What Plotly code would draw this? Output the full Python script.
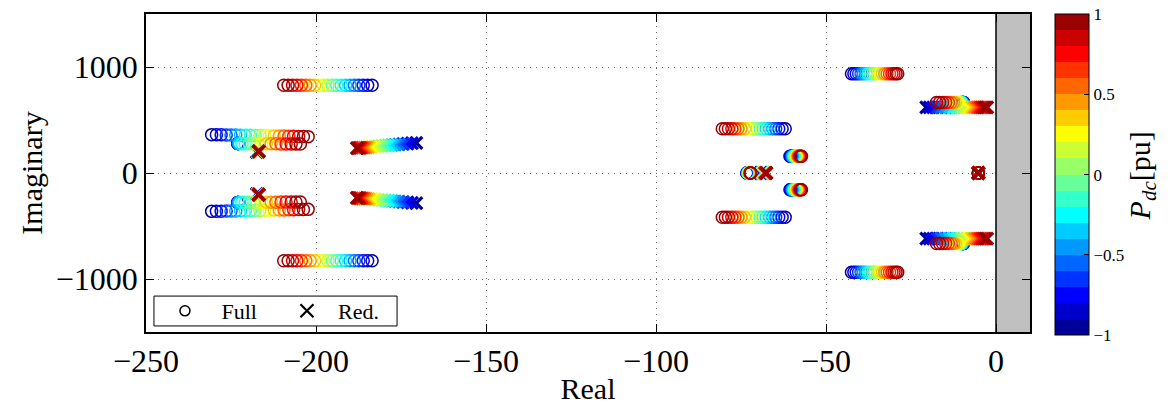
import plotly.graph_objects as go

# ---------------- data ----------------
pdc = [-1.0, -0.9, -0.8, -0.7, -0.6, -0.5, -0.4, -0.3, -0.2, -0.1, 0.0,
       0.1, 0.2, 0.3, 0.4, 0.5, 0.6, 0.7, 0.8, 0.9, 1.0]

# Full model eigenvalue trajectories (upper half plane; conjugates mirrored)
full_1_re = [-183.5, -184.8, -186.1, -187.4, -188.7, -190.0, -191.3, -192.6, -193.9, -195.2, -196.5,
             -197.8, -199.1, -200.4, -201.7, -203.0, -204.3, -205.6, -206.9, -208.2, -209.5]
full_1_im = [828, 828, 828, 828, 828, 828, 828, 828, 828, 828, 828,
             828, 828, 828, 828, 828, 828, 828, 828, 828, 828]

full_2_re = [-230.7, -229.3, -227.9, -226.4, -225.0, -223.6, -222.2, -220.8, -219.3, -217.9, -216.5,
             -215.1, -213.7, -212.3, -210.8, -209.4, -208.0, -206.6, -205.1, -203.7, -202.3]
full_2_im = [362, 361, 360, 359, 358, 358, 357, 356, 355, 354, 353,
             352, 351, 350, 349, 348, 347, 346, 345, 344, 343]

full_3_re = [-223.0, -223.0, -223.0, -222.9, -222.8, -222.7, -222.5, -221.8, -220.8, -219.6, -218.4,
             -217.2, -215.9, -214.6, -213.2, -211.8, -210.3, -208.8, -207.3, -205.9, -204.6]
full_3_im = [278, 278, 278, 278, 278, 278, 278, 277, 277, 277, 276,
             276, 276, 275, 275, 275, 274, 274, 274, 273, 273]

full_4_re = [-62.0, -62.9, -63.9, -64.8, -65.7, -66.6, -67.6, -68.5, -69.4, -70.3, -71.3,
             -72.2, -73.1, -74.0, -75.0, -75.9, -76.8, -77.7, -78.7, -79.6, -80.5]
full_4_im = [418, 418, 418, 418, 418, 418, 418, 418, 418, 418, 418,
             418, 418, 418, 418, 418, 418, 418, 418, 418, 418]

full_5_re = [-73.3, -73.2, -73.2, -73.1, -73.1, -73.0, -72.9, -72.9, -72.8, -72.8, -72.7,
             -72.6, -72.6, -72.5, -72.5, -72.4, -72.3, -72.3, -72.2, -72.2, -72.1]
full_5_im = [0, 0, 0, 0, 0, 0, 0, 0, 0, 0, 0, 0, 0, 0, 0, 0, 0, 0, 0, 0, 0]

full_6_re = [-60.6, -60.4, -60.3, -60.1, -59.9, -59.8, -59.6, -59.4, -59.2, -59.1, -58.9,
             -58.7, -58.6, -58.4, -58.2, -58.1, -57.9, -57.7, -57.5, -57.4, -57.2]
full_6_im = [158, 158, 158, 158, 158, 158, 158, 158, 158, 158, 158,
             158, 158, 158, 158, 158, 158, 158, 158, 158, 158]

full_7_re = [-42.5, -41.8, -41.1, -40.4, -39.7, -39.0, -38.3, -37.6, -36.9, -36.2, -35.5,
             -34.8, -34.1, -33.4, -32.7, -32.0, -31.3, -30.6, -30.0, -29.4, -28.9]
full_7_im = [937, 937, 937, 937, 937, 937, 937, 937, 937, 937, 937,
             937, 937, 937, 937, 937, 937, 937, 937, 937, 937]

full_8_re = [-9.5, -9.6, -9.7, -9.8, -9.9, -10.0, -10.1, -10.2, -10.3, -10.5, -10.7,
             -11.0, -11.4, -11.9, -12.5, -13.2, -14.0, -14.8, -15.7, -16.6, -17.5]
full_8_im = [665, 665, 665, 665, 665, 665, 665, 665, 665, 665, 665,
             665, 665, 665, 665, 665, 665, 665, 665, 665, 665]

full_9_re = [-5.2, -5.2, -5.2, -5.2, -5.2, -5.2, -5.2, -5.2, -5.2, -5.2, -5.2,
             -5.2, -5.2, -5.2, -5.2, -5.2, -5.2, -5.2, -5.2, -5.2, -5.2]
full_9_im = [0, 0, 0, 0, 0, 0, 0, 0, 0, 0, 0, 0, 0, 0, 0, 0, 0, 0, 0, 0, 0]

# Reduced model eigenvalue trajectories
red_1_re = [-217.4, -217.3, -217.3, -217.2, -217.2, -217.2, -217.1, -217.1, -217.1, -217.1, -217.0,
            -217.0, -217.0, -217.0, -216.9, -216.9, -216.9, -216.9, -216.8, -216.8, -216.8]
red_1_im = [198, 198, 199, 199, 199, 200, 200, 200, 201, 201, 201,
            201, 202, 202, 202, 202, 202, 203, 203, 203, 203]

red_2_re = [-170.5, -171.8, -173.1, -174.4, -175.6, -176.7, -177.7, -178.7, -179.6, -180.6, -181.6,
            -182.6, -183.6, -184.5, -185.2, -185.8, -186.4, -186.9, -187.3, -187.7, -188.0]
red_2_im = [285.0, 281.2, 277.4, 273.6, 270.1, 266.9, 264.0, 261.1, 258.5, 255.6, 252.7,
            249.7, 246.8, 244.2, 242.2, 240.4, 238.7, 237.2, 236.0, 234.9, 234.0]

red_3_re = [-69.2, -69.1, -69.0, -68.9, -68.9, -68.8, -68.7, -68.6, -68.5, -68.4, -68.4,
            -68.3, -68.2, -68.1, -68.0, -67.9, -67.9, -67.8, -67.7, -67.6, -67.5]
red_3_im = [0, 0, 0, 0, 0, 0, 0, 0, 0, 0, 0, 0, 0, 0, 0, 0, 0, 0, 0, 0, 0]

red_4_re = [-20.5, -19.5, -18.5, -17.2, -16.0, -14.8, -13.6, -12.4, -11.3, -10.3, -9.4,
            -8.6, -7.8, -7.0, -6.3, -5.6, -5.0, -4.4, -3.8, -3.2, -2.6]
red_4_im = [618, 618, 618, 618, 618, 618, 618, 618, 618, 618, 618,
            618, 618, 618, 618, 618, 618, 618, 618, 618, 618]

red_5_re = [-5.2, -5.2, -5.2, -5.2, -5.2, -5.2, -5.2, -5.2, -5.2, -5.2, -5.2,
            -5.2, -5.2, -5.2, -5.2, -5.2, -5.2, -5.2, -5.2, -5.2, -5.2]
red_5_im = [0, 0, 0, 0, 0, 0, 0, 0, 0, 0, 0, 0, 0, 0, 0, 0, 0, 0, 0, 0, 0]

x_tickvals = [-250, -200, -150, -100, -50, 0]
x_ticktext = ["\u2212250", "\u2212200", "\u2212150", "\u2212100", "\u221250", "0"]
y_tickvals = [-1000, 0, 1000]
y_ticktext = ["\u22121000", "0", "1000"]
cb_tickvals = [-0.9999, -0.5, 0, 0.5, 0.9999]
cb_ticktext = ["\u22121", "\u22120.5", "0", "0.5", "1"]

# MATLAB jet(20)
jet20 = [(0, 0, .6), (0, 0, .8), (0, 0, 1), (0, .2, 1), (0, .4, 1), (0, .6, 1), (0, .8, 1),
         (0, 1, 1), (.2, 1, .8), (.4, 1, .6), (.6, 1, .4), (.8, 1, .2), (1, 1, 0), (1, .8, 0),
         (1, .6, 0), (1, .4, 0), (1, .2, 0), (1, 0, 0), (.8, 0, 0), (.6, 0, 0)]

# ---------------- build ----------------
def rgb(c):
    return "rgb(%d,%d,%d)" % tuple(round(v * 255) for v in c)

n = len(jet20)
eps = 1e-6
colorscale = []
for i, c in enumerate(jet20):
    lo = i / n
    hi = (i + 1) / n
    colorscale.append([lo, rgb(c)])
    colorscale.append([hi - eps if i < n - 1 else 1.0, rgb(c)])

full_sets = [(full_1_re, full_1_im, True), (full_2_re, full_2_im, True), (full_3_re, full_3_im, True),
             (full_4_re, full_4_im, True), (full_5_re, full_5_im, False), (full_6_re, full_6_im, True),
             (full_7_re, full_7_im, True), (full_8_re, full_8_im, True), (full_9_re, full_9_im, False)]
red_sets = [(red_1_re, red_1_im, True), (red_2_re, red_2_im, True), (red_3_re, red_3_im, False),
            (red_4_re, red_4_im, True), (red_5_re, red_5_im, False)]

xs, ys, cs, syms, sizes, lws = [], [], [], [], [], []
for k, p in enumerate(pdc):
    for kind, sets in (("full", full_sets), ("red", red_sets)):
        for re_, im_, mirror in sets:
            signs = (1, -1) if mirror else (1,)
            for s in signs:
                xs.append(re_[k])
                ys.append(s * im_[k])
                cs.append(p)
                if kind == "full":
                    syms.append("circle-open")
                    sizes.append(12)
                    lws.append(1.5)
                else:
                    syms.append("x-thin-open")
                    sizes.append(12)
                    lws.append(3.2)

FONT = "Liberation Serif"
NB = "\u00a0"

fig = go.Figure()
fig.add_trace(go.Scatter(
    x=xs, y=ys, mode="markers", showlegend=False, hoverinfo="skip",
    marker=dict(symbol=syms, size=sizes, color=cs, cmin=-1, cmax=1, opacity=1,
                colorscale=colorscale, line=dict(width=lws),
                colorbar=dict(
                    x=1.028, xanchor="left", y=0.495, yanchor="middle", xpad=0, ypad=0,
                    len=1.01, lenmode="fraction", thickness=34,
                    outlinewidth=1, outlinecolor="black",
                    tickvals=cb_tickvals, ticktext=cb_ticktext,
                    ticks="inside", ticklen=5, tickcolor="black",
                    ticklabeloverflow="allow",
                    tickfont=dict(family=FONT, size=17, color="black"),
                )),
))

# colorbar title (rotated)
fig.add_annotation(xref="paper", yref="paper", x=1.127, y=0.49, xanchor="center", yanchor="middle",
                   text="<i>P</i><sub><i>dc</i></sub>[pu]", textangle=-90, showarrow=False,
                   font=dict(family=FONT, size=30, color="black"))

# legend-only entries
fig.add_trace(go.Scatter(x=[None], y=[None], mode="markers", name=NB + "Full",
                         marker=dict(symbol="circle-open", size=10, color="black", opacity=1,
                                     line=dict(width=1.5))))
fig.add_trace(go.Scatter(x=[None], y=[None], mode="markers", name="Red.",
                         marker=dict(symbol="x-thin-open", size=13, color="black", opacity=1,
                                     line=dict(width=2.2))))

# unstable region shading
fig.add_shape(type="rect", xref="x", yref="y", x0=0, x1=10, y0=-1500, y1=1500,
              fillcolor="#c0c0c0", line=dict(width=0), layer="between")
fig.add_shape(type="line", xref="x", yref="y", x0=0, x1=0, y0=-1500, y1=1500,
              line=dict(color="black", width=1.5), layer="between")
# legend box
fig.add_shape(type="rect", xref="paper", yref="paper", x0=0.009, x1=0.284, y0=0.019, y1=0.113,
              fillcolor="white", line=dict(color="black", width=1), layer="above")

axis_common = dict(showline=True, linecolor="black", linewidth=1.5, mirror="ticks",
                   ticks="inside", ticklen=8, tickcolor="black", tickwidth=1,
                   showgrid=True, gridcolor="rgba(0,0,0,0.6)", griddash="1px,5px", gridwidth=1,
                   zeroline=False, automargin=False,
                   tickfont=dict(family=FONT, size=32, color="black"))

fig.update_xaxes(range=[-250, 10], tickvals=x_tickvals, ticktext=x_ticktext,
                 title=dict(text="Real", font=dict(family=FONT, size=30, color="black"), standoff=0),
                 **axis_common)
fig.update_yaxes(range=[-1500, 1500], tickvals=y_tickvals, ticktext=y_ticktext,
                 title=dict(text="Imaginary", font=dict(family=FONT, size=30, color="black"), standoff=4),
                 **axis_common)

# the page body adds an 8px offset, so the figure is laid out 8px smaller
fig.update_layout(
    width=1162, height=400,
    margin=dict(l=138, r=140, t=6, b=76, autoexpand=False),
    paper_bgcolor="white", plot_bgcolor="white",
    legend=dict(orientation="h", x=0.009, y=0.066, xanchor="left", yanchor="middle",
                bgcolor="rgba(0,0,0,0)", borderwidth=0,
                font=dict(family=FONT, size=22, color="black"),
                itemwidth=52, entrywidth=55, itemsizing="trace", tracegroupgap=0),
)

fig.write_html("out.html")
